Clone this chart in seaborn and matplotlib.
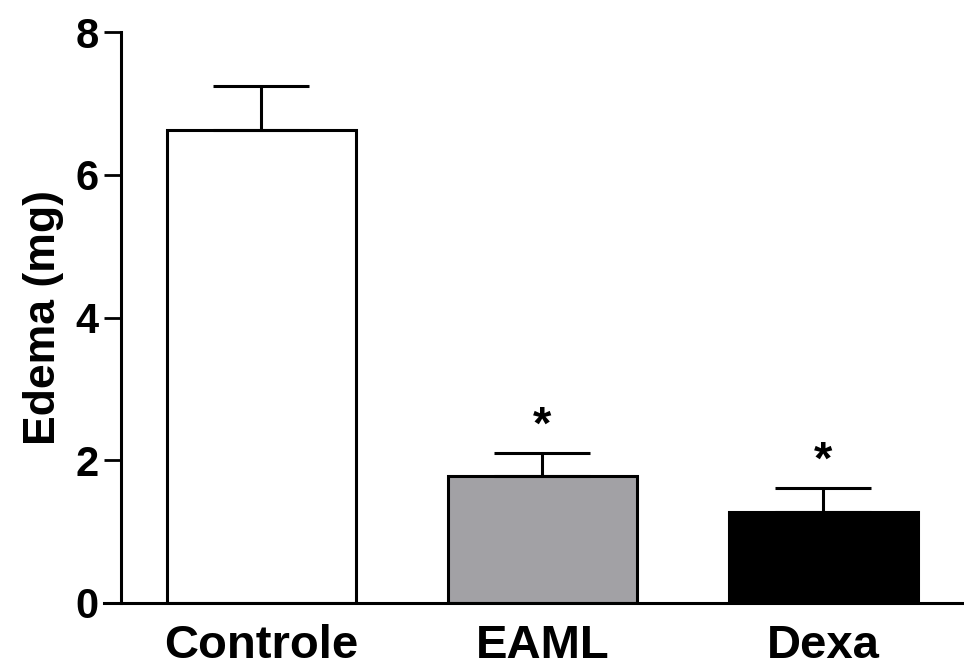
import matplotlib
matplotlib.use("Agg")
import matplotlib.pyplot as plt
import seaborn as sns
import numpy as np
import pandas as pd

groups = ["Controle", "EAML", "Dexa"]
means = [6.63, 1.78, 1.27]
sems = [0.61, 0.32, 0.34]
colors = ["#ffffff", "#a2a1a5", "#000000"]
stars = ["", "*", "*"]
yticks = [0, 2, 4, 6, 8]

sns.set_theme(style="ticks", rc={"axes.edgecolor": "black", "text.color": "black",
                                 "axes.labelcolor": "black", "xtick.color": "black",
                                 "ytick.color": "black"})
plt.rcParams["font.family"] = ["Liberation Sans", "DejaVu Sans"]
plt.rcParams["font.weight"] = "bold"

fig = plt.figure(figsize=(9.64, 6.66), dpi=100)
ax = fig.add_axes([0.1255, 0.0946, 0.8745, 0.857])

df = pd.DataFrame({"group": groups, "mean": means})
sns.barplot(data=df, x="group", y="mean", hue="group", palette=colors,
            edgecolor="black", linewidth=2.2, width=0.67, legend=False,
            dodge=False, ax=ax, errorbar=None)

x = np.arange(len(groups))
ax.errorbar(x, means, yerr=[np.zeros(len(sems)), sems], fmt="none",
            ecolor="black", elinewidth=2.2, capsize=34.5, capthick=2.2, zorder=1)

for xi, m, s, st in zip(x, means, sems, stars):
    if st:
        ax.text(xi, m + s + 0.06, st, ha="center", va="bottom",
                fontsize=34, fontweight="bold", color="black")

ax.set_xlim(-0.5, 2.5)
ax.set_ylim(0, 8)
ax.set_yticks(yticks)
ax.set_yticklabels([str(t) for t in yticks], fontsize=30, fontweight="bold")
ax.set_xticks(x)
ax.set_xticklabels(groups, fontsize=34, fontweight="bold")
ax.tick_params(axis="y", length=12, width=2.0, pad=4, colors="black")
ax.tick_params(axis="x", length=0, pad=15, colors="black")
ax.set_xlabel("")
ax.set_ylabel("Edema (mg)", fontsize=32, fontweight="bold", labelpad=8, color="black")

sns.despine(ax=ax)
for sp in ["left", "bottom"]:
    ax.spines[sp].set_linewidth(2.2)
    ax.spines[sp].set_color("black")
ax.spines["bottom"].set_bounds(-0.5 - 17 / 282, 2.5)
ax.spines["bottom"].set_clip_on(False)

fig.savefig("out.png", dpi=100)
